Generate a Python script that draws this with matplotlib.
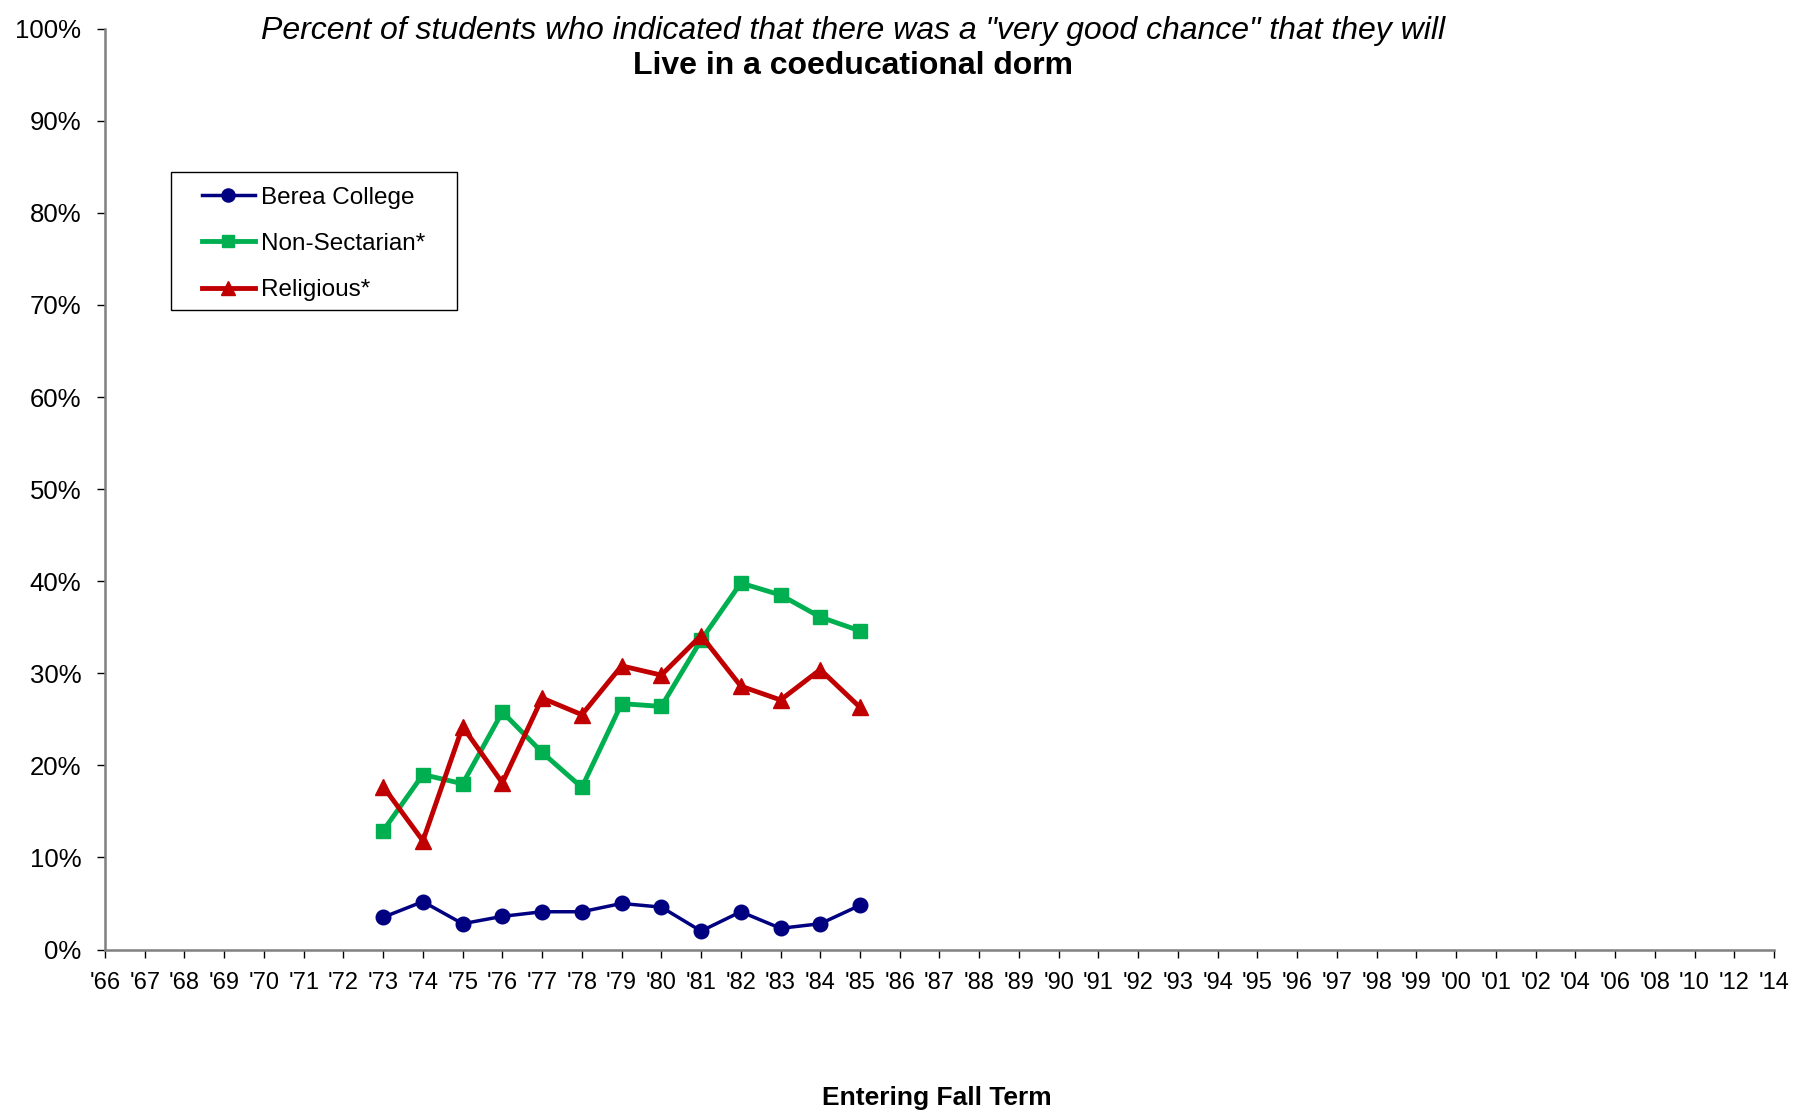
import matplotlib
matplotlib.use("Agg")
import matplotlib.pyplot as plt
from matplotlib.patches import Rectangle
from matplotlib.ticker import PercentFormatter

plt.rcParams['font.family'] = ['Liberation Sans', 'DejaVu Sans']

years = ["'66", "'67", "'68", "'69", "'70", "'71", "'72", "'73", "'74", "'75", "'76", "'77",
         "'78", "'79", "'80", "'81", "'82", "'83", "'84", "'85", "'86", "'87", "'88", "'89",
         "'90", "'91", "'92", "'93", "'94", "'95", "'96", "'97", "'98", "'99", "'00", "'01",
         "'02", "'04", "'06", "'08", "'10", "'12", "'14"]

data_years = ["'73", "'74", "'75", "'76", "'77", "'78", "'79", "'80", "'81", "'82", "'83", "'84", "'85"]
berea = [3.5, 5.2, 2.8, 3.6, 4.1, 4.1, 5.0, 4.6, 2.0, 4.1, 2.3, 2.8, 4.8]
non_sectarian = [12.9, 19.0, 18.0, 25.8, 21.4, 17.6, 26.7, 26.4, 33.6, 39.8, 38.5, 36.1, 34.6]
religious = [17.7, 11.8, 24.2, 18.1, 27.3, 25.5, 30.8, 29.8, 34.1, 28.6, 27.1, 30.4, 26.3]

W, H = 1796, 1110
fig = plt.figure(figsize=(W/100, H/100), dpi=100)
ax = fig.add_axes([105/W, 1 - 949.5/H, (1774 - 105)/W, (949.5 - 28.7)/H])

xi = [years.index(y) for y in data_years]
ax.plot(xi, berea, color='#000080', lw=2.5, marker='o', ms=10.5, label='Berea College')
ax.plot(xi, non_sectarian, color='#00B050', lw=3.5, marker='s', ms=10, label='Non-Sectarian*')
ax.plot(xi, religious, color='#C00000', lw=3.5, marker='^', ms=11.5, label='Religious*')

ax.set_xlim(0, len(years) - 1)
ax.set_ylim(0, 100)
ax.set_xticks(range(len(years)))
ax.set_xticklabels(years, fontsize=17)
ax.set_yticks(range(0, 101, 10))
ax.yaxis.set_major_formatter(PercentFormatter(decimals=0))
ax.tick_params(axis='y', labelsize=18.5, length=6, width=1.0, color='black', pad=11)
ax.tick_params(axis='x', length=6, width=1.0, color='black', pad=10)

for s in ['top', 'right']:
    ax.spines[s].set_visible(False)
for s in ['left', 'bottom']:
    ax.spines[s].set_color('#808080')
    ax.spines[s].set_linewidth(1.8)

fig.text(853/W, 1 - 30.5/H, 'Percent of students who indicated that there was a "very good chance" that they will',
         ha='center', va='center', fontsize=23, style='italic')
fig.text(853/W, 1 - 66.5/H, 'Live in a coeducational dorm',
         ha='center', va='center', fontsize=23, weight='bold')
fig.text(937/W, 1 - 1098/H, 'Entering Fall Term', ha='center', va='center',
         fontsize=19, weight='bold')

# legend frame
fig.patches.append(Rectangle((170.7/W, 1 - 310.4/H), (457 - 170.7)/W, (310.4 - 171.8)/H,
                             transform=fig.transFigure, fill=False, edgecolor='black',
                             lw=1.0, zorder=5))
leg = ax.legend(loc='upper left', bbox_to_anchor=(201.6/W, 1 - 186.5/H),
                bbox_transform=fig.transFigure, fontsize=17.5, frameon=False,
                handlelength=2.2, handletextpad=0.25, labelspacing=1.0,
                borderpad=0, borderaxespad=0, markerscale=0.9)

fig.savefig('out.png', dpi=100)
